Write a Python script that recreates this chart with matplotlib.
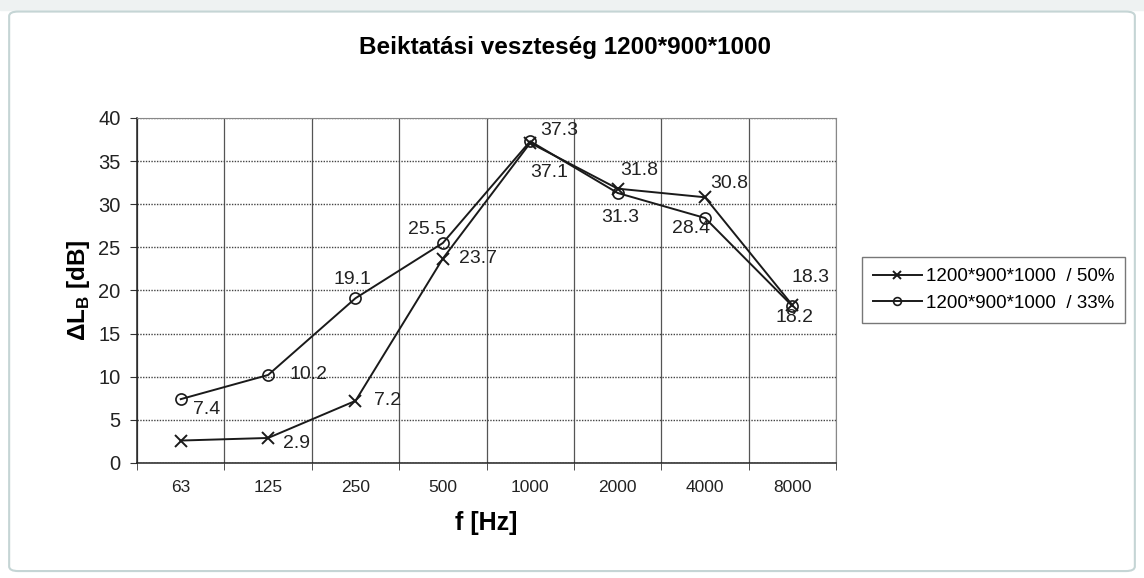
import numpy as np
import matplotlib
matplotlib.use('Agg')
import matplotlib.pyplot as plt
from matplotlib.patches import FancyBboxPatch

plt.rcParams['font.family'] = ['Liberation Sans', 'DejaVu Sans']
plt.rcParams['mathtext.fontset'] = 'custom'
plt.rcParams['mathtext.rm'] = 'Liberation Sans'
plt.rcParams['mathtext.bf'] = 'Liberation Sans:bold'

# Data
freqs = ['63', '125', '250', '500', '1000', '2000', '4000', '8000']
loss_50 = [2.6, 2.9, 7.2, 23.7, 37.1, 31.8, 30.8, 18.3]
loss_33 = [7.4, 10.2, 19.1, 25.5, 37.3, 31.3, 28.4, 18.2]
name_50 = '1200*900*1000  / 50%'
name_33 = '1200*900*1000  / 33%'
labels_50 = [None, '2.9', '7.2', '23.7', '37.1', '31.8', '30.8', '18.3']
labels_33 = ['7.4', '10.2', '19.1', '25.5', '37.3', '31.3', '28.4', '18.2']

# label offsets in pixels (dx, dy, ha) - placement like excel
offs_50 = [None, (15, -6, 'left'), (19, 0, 'left'), (16, 0, 'left'),
           (19, -30, 'center'), (22, 18, 'center'), (5, 14, 'left'), (18, 28, 'center')]
offs_33 = [(12, -10, 'left'), (21, 0, 'left'), (-3, 19, 'center'), (-16, 13, 'center'),
           (10, 11, 'left'), (3, -25, 'center'), (-14, -11, 'center'), (2, -12, 'center')]

fig = plt.figure(figsize=(11.44, 5.78), dpi=100)
ax = fig.add_axes([0.1198, 0.199, 0.611, 0.597])

x = np.arange(len(freqs))
ax.plot(x, loss_50, '-', color='#1a1a1a', lw=1.4, marker='x', ms=9, mew=1.4, label=name_50)
ax.plot(x, loss_33, '-', color='#1a1a1a', lw=1.4, marker='o', ms=8, mfc='none', mew=1.2, label=name_33)

for xi, v, t, o in zip(x, loss_50, labels_50, offs_50):
    if t is None:
        continue
    ax.annotate(t, (xi, v), xytext=(o[0], o[1]), textcoords='offset pixels',
                ha=o[2], va='center', fontsize=14, color='#222222')
for xi, v, t, o in zip(x, loss_33, labels_33, offs_33):
    ax.annotate(t, (xi, v), xytext=(o[0], o[1]), textcoords='offset pixels',
                ha=o[2], va='center', fontsize=14, color='#222222')

ax.set_xlim(-0.5, len(freqs) - 0.5)
ax.set_ylim(0, 40)
ax.set_yticks(np.arange(0, 41, 5))
ax.set_xticks(x)
ax.set_xticklabels(freqs)
ax.set_xticks(np.arange(-0.5, len(freqs)), minor=True)
ax.tick_params(axis='x', which='major', length=0, pad=12, labelsize=12.5, labelcolor='#222222')
ax.tick_params(axis='x', which='minor', length=5, direction='out', color='#333333')
ax.tick_params(axis='y', which='major', length=5, direction='out', labelsize=14.5, pad=7,
               color='#333333', labelcolor='#222222')

ax.grid(True, axis='y', which='major', linestyle=(0, (1, 1)), color='#444444', lw=1)
ax.grid(True, axis='x', which='minor', linestyle='-', color='#555555', lw=0.9)
ax.set_axisbelow(True)

for s in ['top', 'right']:
    ax.spines[s].set_color('#888888')
for s in ['left', 'bottom']:
    ax.spines[s].set_color('#222222')
    ax.spines[s].set_linewidth(1.1)

ax.set_xlabel('f [Hz]', fontsize=18, fontweight='bold', labelpad=12)
ax.set_ylabel(r'ΔL$_\mathbf{B}$ [dB]', fontsize=17.5, fontweight='bold', labelpad=4)

fig.text(0.4935, 0.918, 'Beiktatási veszteség 1200*900*1000', ha='center', va='center',
         fontsize=17.5, fontweight='bold')

leg = fig.legend(loc='center', bbox_to_anchor=(0.8685, 0.498), fontsize=13.5, frameon=True,
                 fancybox=False, edgecolor='#555555', handlelength=2.6, handletextpad=0.2,
                 borderpad=0.6, labelspacing=0.5, markerscale=0.7)
leg.get_frame().set_linewidth(1.0)

# outer chart border
border = FancyBboxPatch((0.008, 0.012), 0.984, 0.968, boxstyle='round,pad=0,rounding_size=0.008',
                        transform=fig.transFigure, fill=False, edgecolor='#c5d5d5', lw=1.5)
fig.patches.append(border)
fig.patches.append(plt.Rectangle((0, 0.982), 1, 0.018, transform=fig.transFigure,
                                 color='#eef2f2', zorder=-1))

fig.savefig('out.png', dpi=100)
